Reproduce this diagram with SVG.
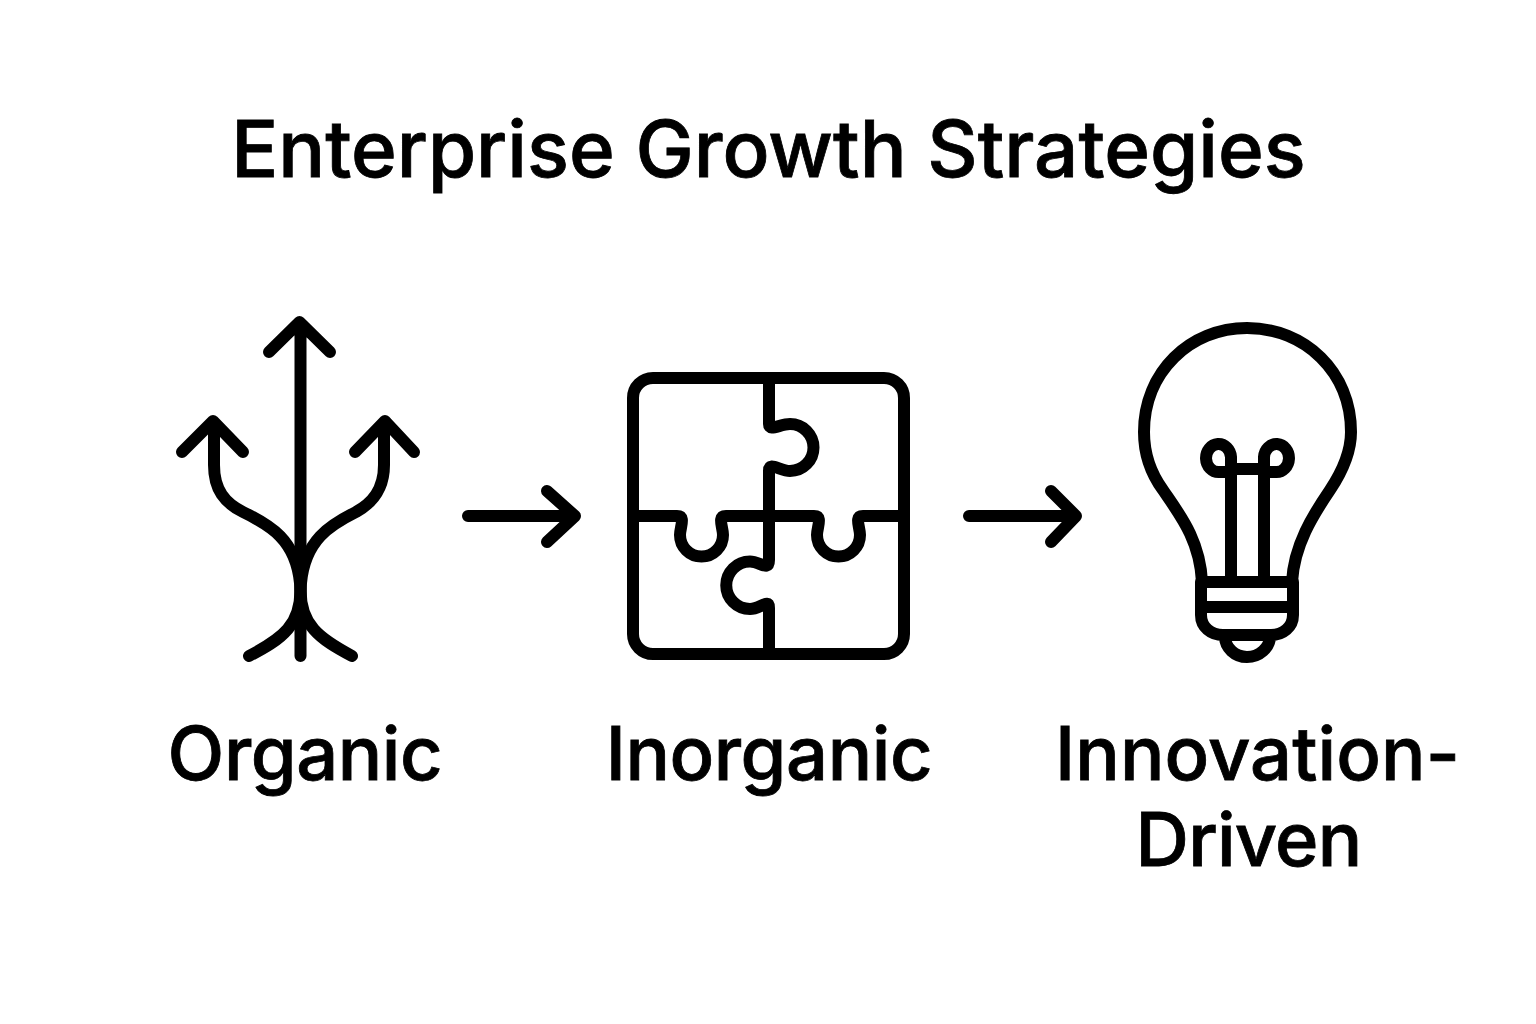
<svg xmlns="http://www.w3.org/2000/svg" width="1536" height="1024" viewBox="0 0 1536 1024">
<style>
.s{fill:none;stroke:#000;stroke-width:12;stroke-linecap:round;stroke-linejoin:round}
.t{font-family:Inter,"Liberation Sans",sans-serif;font-weight:500;fill:#000;text-anchor:middle}
.l{font-size:74px;stroke:#000;stroke-width:0.800px;letter-spacing:-0.400px}
</style>
<rect width="1536" height="1024" fill="#fff"/>
<text id="title" class="t" x="768.500" y="177" font-size="78" stroke="#000" stroke-width="0.800">Enterprise Growth Strategies</text>
<g id="organic">
<path class="s" d="M300.500 656V323M269 352L299.500 322L330 352"/>
<path class="s" d="M214 424V465C214 490 225 503 243 512C270 525 296 540 300 583C304 625 280 640 249 656M182 452L213 421L243 452"/>
<path class="s" d="M384 424V465C384 490 372 503 356 512C330 525 305 540 301 583C297 625 322 640 352 656M355 452L385 421L414 452"/>
<text class="t l" x="305" y="780">Organic</text>
</g>
<g id="inorganic">
<rect class="s" x="633" y="378" width="271" height="276" rx="20"/>
<path class="s" d="M769 378V424C769 432 780 424 790 424A23.500 23.500 0 1 1 790 471C780 471 769 461 769 471V560C769 572 760 561.500 750 561.500A23.700 23.700 0 0 0 750 609C760 609 769 598 769 608V654"/>
<path class="s" d="M633 516H677C686 516 680 527 680 535A21.500 21.500 0 0 0 723 535C723 527 717 516 726 516H814C823 516 817 527 817 535A21.500 21.500 0 0 0 860 535C860 527 854 516 863 516H904"/>
<text class="t l" x="769" y="780">Inorganic</text>
</g>
<g id="innovation">
<path class="s" d="M1202 582C1200 540 1180 515 1163 490C1152 475 1144 455 1144 432C1144 372 1190 328 1247 328C1305 328 1351 372 1351 432C1351 455 1340 475 1330 490C1313 515 1294 545 1292 582"/>
<path class="s" d="M1202 582H1292M1202 607H1292M1201 582V615C1201 627 1211 635 1223 635H1271C1283 635 1293 627 1293 615V582M1225 636C1225 648 1235 657 1247 657C1259 657 1270 648 1270 636"/>
<path class="s" d="M1231 582V457A12.500 14 0 1 0 1219 472H1231M1264 582V457A12.500 14 0 1 1 1276 472H1264M1231 469H1264"/>
<text class="t l" x="1257.500" y="780" style="letter-spacing:0.100px">Innovation-</text>
<text class="t l" x="1248.500" y="866" style="letter-spacing:-0.800px">Driven</text>
</g>
<g id="connectors">
<path class="s" d="M468 516H575M547 491L575 516L547 542"/>
<path class="s" d="M969 516H1076M1051 491L1076 516L1051 542"/>
</g>
</svg>
